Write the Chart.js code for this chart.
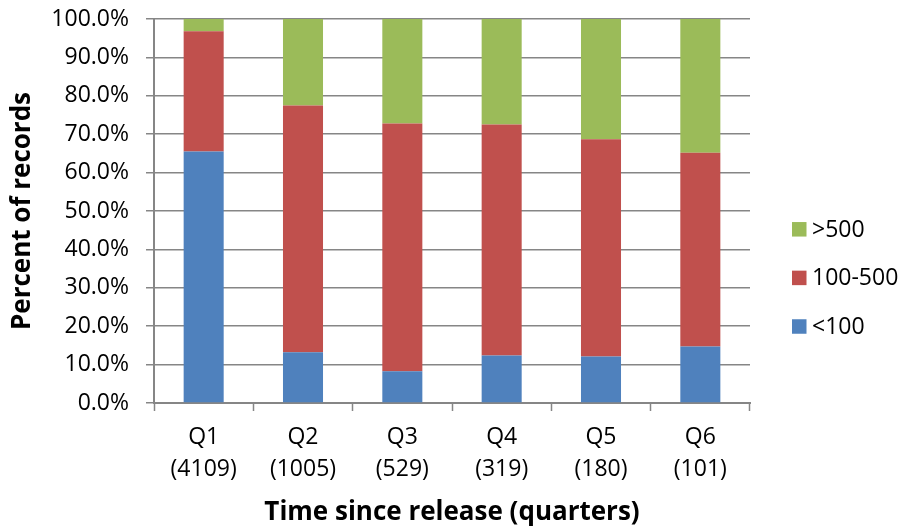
<!DOCTYPE html>
<html>
<head>
<meta charset="utf-8">
<script src="https://cdn.jsdelivr.net/npm/chart.js@4/dist/chart.umd.min.js"></script>
<style>
  html, body { margin: 0; padding: 0; background: #ffffff; }
  #wrap { width: 905px; height: 531px; }
</style>
</head>
<body>
<div id="wrap"><canvas id="chart" width="905" height="531"></canvas></div>
<script>
// Share of records per release-size band, by quarter since release
const quarters = ['Q1', 'Q2', 'Q3', 'Q4', 'Q5', 'Q6'];
const recordCounts = ['(4109)', '(1005)', '(529)', '(319)', '(180)', '(101)'];
const under100 = [65.5, 13.2, 8.3, 12.4, 12.1, 14.7];
const from100to500 = [31.3, 64.3, 64.5, 60.1, 56.6, 50.5];
const over500 = [3.2, 22.5, 27.2, 27.5, 31.3, 34.8];
const yTicks = [0, 10, 20, 30, 40, 50, 60, 70, 80, 90, 100];

const seriesNames = ['<100', '100-500', '>500'];
const seriesColors = ['#4F81BD', '#C0504D', '#9BBB59'];

const GRID = '#868686';
const TICK_FONT = { family: '"Open Sans", sans-serif', size: 23 };
const TITLE_FONT = { family: '"Open Sans", sans-serif', size: 26, weight: 'bold' };

// Legend drawn beside the plot, top entry is the last series
const sideLegend = {
  id: 'sideLegend',
  afterDraw(chart) {
    const ctx = chart.ctx;
    const ds = chart.data.datasets;
    const x = 792, box = 14.5, gap = 48.6, firstY = 229.3;
    ctx.save();
    ctx.font = '23px "Open Sans", sans-serif';
    ctx.textBaseline = 'middle';
    ctx.textAlign = 'left';
    for (let i = ds.length - 1, row = 0; i >= 0; i--, row++) {
      const cy = firstY + row * gap;
      ctx.fillStyle = ds[i].backgroundColor;
      ctx.fillRect(x, cy - box / 2, box, box);
      ctx.fillStyle = '#000000';
      ctx.fillText(ds[i].label, x + 20, cy + 1);
    }
    ctx.restore();
  }
};

const labels = quarters.map((q, i) => [q, recordCounts[i]]);
const seriesValues = [under100, from100to500, over500];

new Chart(document.getElementById('chart'), {
  type: 'bar',
  data: {
    labels: labels,
    datasets: seriesValues.map((vals, i) => ({
      label: seriesNames[i],
      data: vals,
      backgroundColor: seriesColors[i],
      borderWidth: 0,
      barPercentage: 0.403,
      categoryPercentage: 1.0
    }))
  },
  options: {
    responsive: false,
    animation: false,
    layout: { padding: { top: 19, right: 155, bottom: 0, left: 0 } },
    plugins: {
      legend: { display: false },
      tooltip: { enabled: false }
    },
    scales: {
      x: {
        stacked: true,
        offset: true,
        grid: {
          display: true,
          drawOnChartArea: false,
          drawTicks: true,
          tickLength: 8,
          tickWidth: 1.5,
          tickColor: GRID,
          offset: true
        },
        border: { display: true, color: GRID, width: 2 },
        ticks: {
          color: '#000000',
          font: Object.assign({ lineHeight: 1.374 }, TICK_FONT),
          padding: 11,
          maxRotation: 0,
          autoSkip: false
        },
        title: {
          display: true,
          text: 'Time since release (quarters)',
          color: '#000000',
          font: TITLE_FONT,
          padding: { top: 0, bottom: 3 }
        },
        afterFit(scale) {
          scale.height = 128;
          scale.paddingLeft = 0;
          scale.paddingRight = 0;
        }
      },
      y: {
        stacked: true,
        min: 0,
        max: 100,
        afterBuildTicks(scale) { scale.ticks = yTicks.map(v => ({ value: v })); },
        grid: {
          color: GRID,
          lineWidth: 1.5,
          drawTicks: true,
          tickLength: 8
        },
        border: { display: true, color: GRID, width: 2 },
        ticks: {
          color: '#000000',
          font: TICK_FONT,
          padding: 17,
          callback: (v) => Number(v).toFixed(1) + '%'
        },
        title: {
          display: true,
          text: 'Percent of records',
          color: '#000000',
          font: TITLE_FONT,
          padding: { top: 7, bottom: 0 }
        },
        afterFit(scale) {
          scale.width = 154;
          scale.paddingTop = 0;
          scale.paddingBottom = 0;
        }
      }
    }
  },
  plugins: [sideLegend]
});
</script>
</body>
</html>
